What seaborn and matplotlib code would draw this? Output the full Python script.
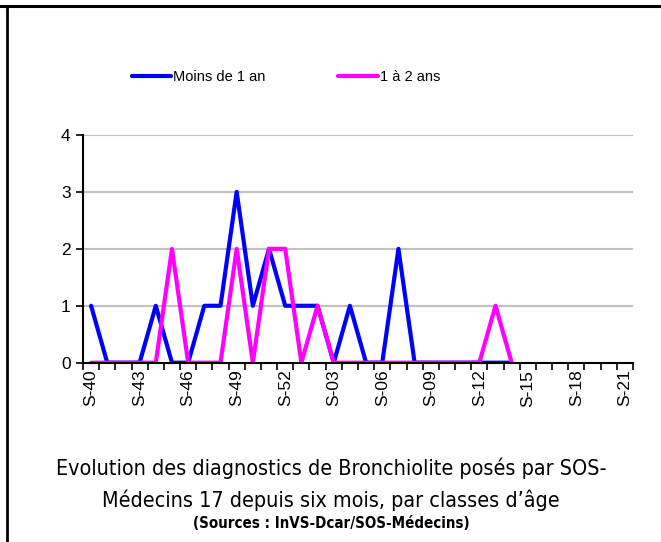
import pandas as pd
import matplotlib.pyplot as plt
import seaborn as sns
from matplotlib.lines import Line2D

# weeks shown on the x axis (S-40 .. S-52 then S-01 .. S-21)
semaines = [f"S-{w}" for w in range(40, 53)] + [f"S-{w:02d}" for w in range(1, 22)]

# weekly counts, S-40 .. S-14 (no data afterwards)
moins_1_an = [1, 0, 0, 0, 1, 0, 0, 1, 1, 3, 1, 2, 1, 1, 1, 0, 1, 0, 0, 2, 0, 0, 0, 0, 0, 0, 0]
un_a_2_ans = [0, 0, 0, 0, 0, 2, 0, 0, 0, 2, 0, 2, 2, 0, 1, 0, 0, 0, 0, 0, 0, 0, 0, 0, 0, 1, 0]

series = ["Moins de 1 an", "1 à 2 ans"]
couleurs = ["#0000FF", "#FF00FF"]

rows = []
for nom, vals in zip(series, [moins_1_an, un_a_2_ans]):
    for i, v in enumerate(vals):
        rows.append({"semaine": semaines[i], "pos": i, "serie": nom, "valeur": v})
df = pd.DataFrame(rows)

sns.set_style("white")
plt.rcParams["font.family"] = ["Liberation Sans", "DejaVu Sans"]
plt.rcParams["text.color"] = "black"
plt.rcParams["xtick.color"] = "black"
plt.rcParams["ytick.color"] = "black"

fig = plt.figure(figsize=(6.61, 5.42), dpi=100)
ax = fig.add_axes([83 / 661, 1 - 362.7 / 542, 550 / 661, (362.7 - 135) / 542])

sns.lineplot(data=df, x="pos", y="valeur", hue="serie", hue_order=series,
             palette=couleurs, linewidth=3, legend=False, ax=ax)

# axes
ax.set_xlim(-0.5, len(semaines) - 0.5)
ax.set_ylim(0, 4)
ax.set_yticks(range(0, 5))
ax.set_xticks(range(0, len(semaines), 3))
ax.set_xticklabels(semaines[::3], rotation=90)
ax.set_xticks([i - 0.5 for i in range(len(semaines) + 1)], minor=True)
ax.tick_params(axis="both", which="both", bottom=True, left=True)
ax.tick_params(axis="x", which="major", length=0, pad=5, labelsize=12.5)
ax.tick_params(axis="x", which="minor", length=5, width=1.2, direction="out")
ax.tick_params(axis="y", length=5, width=1.2, direction="out", labelsize=12.5, pad=4)
ax.set_xlabel("")
ax.set_ylabel("")
for y in range(1, 5):
    ax.axhline(y, color="#C0C0C0", lw=1.5, zorder=0)
for s in ["top", "right"]:
    ax.spines[s].set_visible(False)
for s in ["left", "bottom"]:
    ax.spines[s].set_color("black")
    ax.spines[s].set_linewidth(1.5)

# legend
handles = [Line2D([], [], color=c, lw=3) for c in couleurs]
fig.legend(handles, series, loc="center", bbox_to_anchor=(286 / 661, 1 - 77 / 542),
           ncol=2, frameon=False, fontsize=10.5, handlelength=2.7, handletextpad=0.15,
           columnspacing=5, borderpad=0, borderaxespad=0)

# caption
fig.text(0.501, 1 - 468 / 542, "Evolution des diagnostics de Bronchiolite posés par SOS-",
         ha="center", va="center", fontsize=15.4, family="DejaVu Sans", fontstretch="condensed")
fig.text(0.501, 1 - 500 / 542, "Médecins 17 depuis six mois, par classes d’âge",
         ha="center", va="center", fontsize=15.4, family="DejaVu Sans", fontstretch="condensed")
fig.text(0.501, 1 - 523 / 542, "(Sources : InVS-Dcar/SOS-Médecins)",
         ha="center", va="center", fontsize=10.8, fontweight="bold", family="DejaVu Sans",
         fontstretch="condensed")

# frame lines (top and left)
fig.add_artist(Line2D([0, 1], [1 - 6 / 542, 1 - 6 / 542], color="black", lw=2.2,
                      transform=fig.transFigure))
fig.add_artist(Line2D([7 / 661, 7 / 661], [0, 1 - 6 / 542], color="black", lw=2,
                      transform=fig.transFigure))

fig.savefig("out.png", dpi=100)
